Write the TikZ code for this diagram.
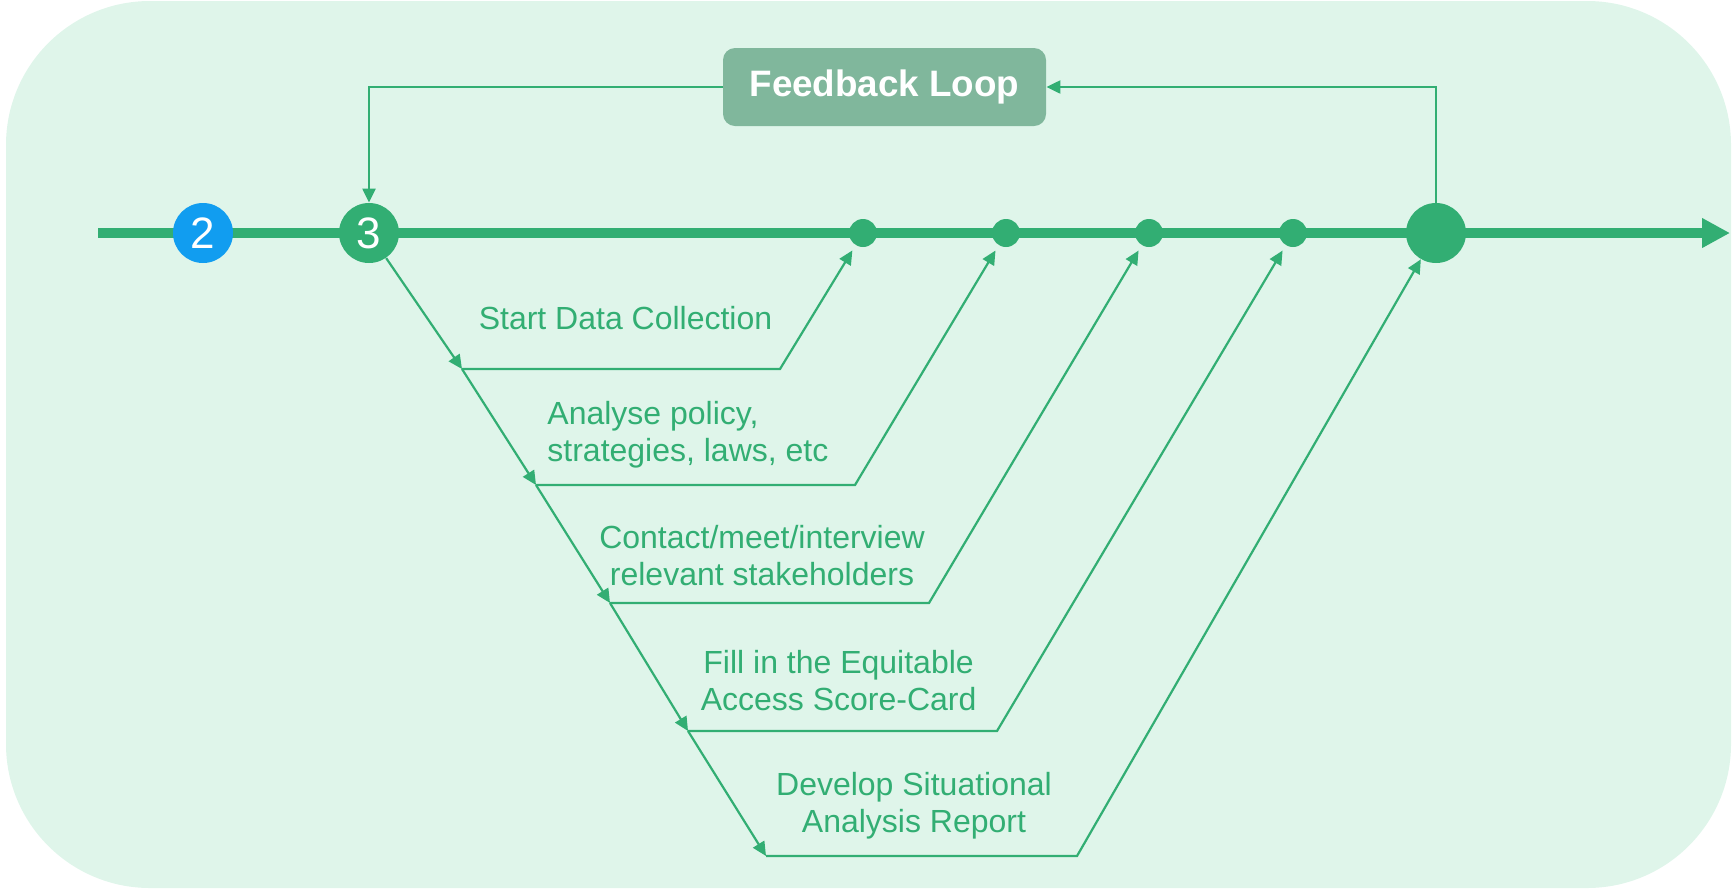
\documentclass[tikz,border=0pt]{standalone}
\usepackage{fontspec}
\setmainfont{Liberation Sans}
\usetikzlibrary{arrows.meta}
\definecolor{bgmint}{RGB}{223,245,234}
\definecolor{lgreen}{RGB}{50,174,115}
\definecolor{fbbox}{RGB}{128,183,156}
\definecolor{stepblue}{RGB}{17,157,240}
\begin{document}
\begin{tikzpicture}[x=0.5pt,y=-0.5pt,
  axisline/.style={line width=5pt, draw=lgreen, -{Triangle[length=14pt,width=14pt]}},
  conn/.style={line width=1.1pt, draw=lgreen, -{Triangle[length=7pt,width=6.5pt]}},
  numdot/.style={circle, inner sep=0pt, minimum size=30pt, text=white, font=\fontsize{22}{26}\selectfont},
  smalldot/.style={circle, fill=lgreen, inner sep=0pt, minimum size=14pt},
  bigdot/.style={circle, fill=lgreen, inner sep=0pt, minimum size=30pt},
  lbl/.style={text=lgreen, font=\fontsize{16}{18.5}\selectfont, inner sep=0pt},
  fbstyle/.style={fill=fbbox, rounded corners=6pt, minimum width=161.5pt, minimum height=39pt, text=white, font=\fontsize{18.4}{22}\selectfont\bfseries, inner sep=0pt}
]
\useasboundingbox (0,0) rectangle (1733,890);
\fill[bgmint, rounded corners=72pt] (6,1) rectangle (1731,888);

\coordinate (axL) at (98,233);
\coordinate (axR) at (1730,233);
\draw[axisline] (axL) -- (axR);

\node[numdot, fill=stepblue] (n2) at (203,233) {2};
\node[numdot, fill=lgreen] (n3) at (369,233) {3};
\node[smalldot] (d1) at (863,233) {};
\node[smalldot] (d2) at (1006,233) {};
\node[smalldot] (d3) at (1149,233) {};
\node[smalldot] (d4) at (1293,233) {};
\node[bigdot] (d5) at (1436,233) {};
\node[fbstyle] (fb) at (884.5,87) {Feedback Loop};

\draw[conn] (d5) |- (fb.east);
\draw[conn] (fb.west) -| (n3);

\coordinate (v1) at (462,369); \coordinate (e1) at (780,369);
\coordinate (v2) at (536,485); \coordinate (e2) at (855,485);
\coordinate (v3) at (610,603); \coordinate (e3) at (929,603);
\coordinate (v4) at (688,731); \coordinate (e4) at (997,731);
\coordinate (v5) at (766,856); \coordinate (e5) at (1077,856);

\draw[conn] (n3) -- (v1);
\draw[conn] (v1) -- (v2);
\draw[conn] (v2) -- (v3);
\draw[conn] (v3) -- (v4);
\draw[conn] (v4) -- (v5);

\draw[conn, shorten >=3pt] (v1) -- (e1) -- (d1);
\draw[conn, shorten >=3pt] (v2) -- (e2) -- (d2);
\draw[conn, shorten >=3pt] (v3) -- (e3) -- (d3);
\draw[conn, shorten >=3pt] (v4) -- (e4) -- (d4);
\draw[conn] (v5) -- (e5) -- (d5);

\node[lbl, anchor=base] (t1) at (625.5,329) {Start Data Collection};
\node[lbl, anchor=base west, align=left] (t2) at (547,461) {Analyse policy,\\strategies, laws, etc};
\node[lbl, anchor=base, align=center] (t3) at (762,585) {Contact/meet/interview\\relevant stakeholders};
\node[lbl, anchor=base, align=center] (t4) at (838.6,710) {Fill in the Equitable\\Access Score-Card};
\node[lbl, anchor=base, align=center] (t5) at (914,832) {Develop Situational\\Analysis Report};
\end{tikzpicture}
\end{document}
